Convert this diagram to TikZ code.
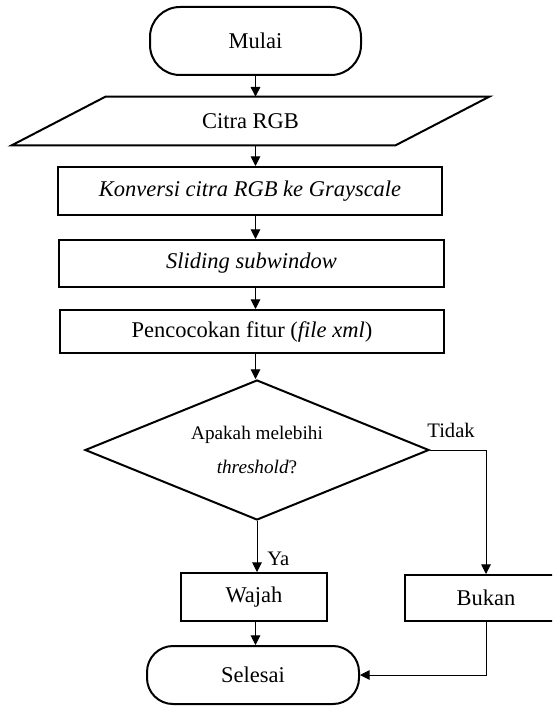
\documentclass[tikz,border=0pt]{standalone}
\usepackage{fontspec}
\setmainfont{Liberation Serif}
\usepackage{tikz}
\usetikzlibrary{positioning,arrows.meta,calc,shapes.geometric}
\newcommand{\mainsize}{\fontsize{11.25}{13.5}\selectfont}
\newcommand{\asksize}{\fontsize{9.6}{17}\selectfont}
\newcommand{\lblsize}{\fontsize{10.3}{12}\selectfont}
\tikzset{
  term/.style  = {rectangle, rounded corners=15pt, draw=black, fill=white, line width=1pt,
                  align=center, font=\mainsize},
  proc/.style  = {rectangle, draw=black, fill=white, line width=1pt, inner sep=0pt,
                  align=center, font=\mainsize},
  iobox/.style = {rectangle, inner sep=0pt, align=center, font=\mainsize},
  ask/.style   = {diamond, aspect=2.46, draw=black, fill=white, line width=1pt, inner sep=0pt,
                  align=center, font=\asksize},
  flow/.style  = {-{Triangle[length=4.8pt, width=4.8pt]}, line width=0.5pt, draw=black},
  lbl/.style   = {font=\lblsize, inner sep=0pt},
}

\begin{document}
\begin{tikzpicture}[x=0.5pt, y=0.5pt]
  \useasboundingbox (0,0) rectangle (552,-706);
  \clip (0,0) rectangle (552,-706);

  \node[term, minimum width=105.5pt, minimum height=34pt] (mulai) at (255.5,-41) {Mulai};
  \node[iobox, minimum width=191.5pt, minimum height=24pt] (citra) at (250.5,-121) {Citra RGB};
  \draw[line width=1pt] ($(citra.north west)+(47,0)$) -- ($(citra.north east)+(47,0)$)
    -- ($(citra.south east)-(47,0)$) -- ($(citra.south west)-(47,0)$) -- cycle;

  \foreach \nm/\x/\y/\w/\h/\txt in {%
      konv/250/191/192/24/{\textit{Konversi citra RGB ke Grayscale}},
      slide/251.5/263.5/192.5/23.5/{\textit{Sliding subwindow}},
      cocok/252/331.5/192/21.5/{Pencocokan fitur (\textit{file xml})}} {
    \node[proc, minimum width=\w pt, minimum height=\h pt] (\nm) at (\x,-\y) {\txt};
  }

  \node[ask, minimum width=172pt, minimum height=70pt] (cek) at (257,-450)
    {Apakah melebihi\\\textit{threshold}?};
  \node[proc, minimum width=73pt, minimum height=24pt] (wajah) at (254,-597) {Wajah};
  \node[proc, minimum width=81pt, minimum height=23pt] (bukan) at (486,-598) {Bukan};
  \node[term, rounded corners=13pt, minimum width=106pt, minimum height=29pt] (selesai) at (253,-675) {Selesai};

  \node[lbl, anchor=base west] (tidak) at (427,-437) {Tidak};
  \node[lbl, anchor=base west] (ya) at (267,-565) {Ya};

  \draw[flow] (mulai.south) -- (citra.north -| mulai);
  \foreach \a/\b in {citra/konv, konv/slide, slide/cocok, cocok/cek, wajah/selesai}
    \draw[flow] (\a.south -| mulai) -- (\b.north -| mulai);
  \draw[flow] (cek.south) -- (wajah.north -| cek.south);
  \draw[flow] (cek.east) -| (bukan.north);
  \draw[flow] (bukan.south) |- (selesai.east);
\end{tikzpicture}
\end{document}
